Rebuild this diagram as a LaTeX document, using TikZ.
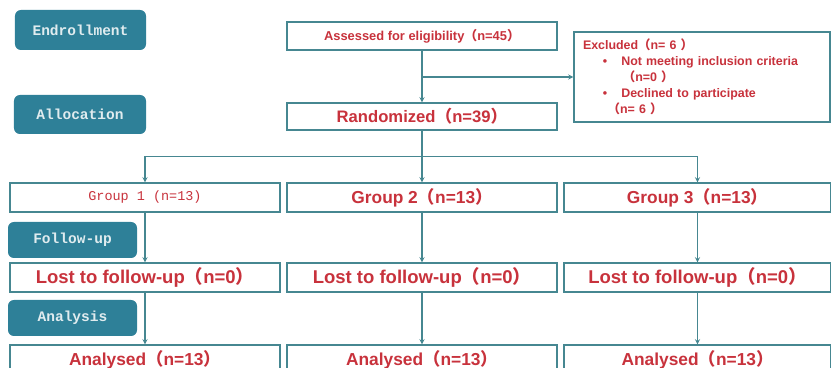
\documentclass[tikz,border=0pt]{standalone}
\usepackage{fontspec}
\setmainfont{Liberation Sans}
\newfontfamily\monofont{Liberation Mono}
\newfontfamily\cjk{Noto Sans CJK SC}
\usepackage{tikz}
\usetikzlibrary{shapes.geometric, arrows, positioning}
\definecolor{stagefill}{RGB}{46,128,152}
\definecolor{boxline}{RGB}{70,135,145}
\definecolor{boxtext}{RGB}{200,50,60}
\newcommand{\lp}{{\cjk （}}
\newcommand{\rp}{{\cjk ）}}
\tikzstyle{stage} = [rectangle, rounded corners=5pt, 
minimum width=3.87cm, 
minimum height=1.08cm, 
text centered, 
fill=stagefill, 
text=white!85!stagefill, 
font=\monofont\bfseries\fontsize{12.4}{14}\selectfont]
\tikzstyle{flowbox} = [rectangle, 
minimum width=8.1cm, 
minimum height=0.87cm, 
inner sep=0pt, 
text centered, 
draw=boxline, line width=1pt, 
fill=white, 
text=boxtext, 
font=\bfseries\fontsize{14.8}{16}\selectfont]
\tikzstyle{arrow} = [line width=1pt, draw=boxline, ->, >=stealth]

\begin{document}
\begin{tikzpicture}
\useasboundingbox (0,0) rectangle (24.93,-11.04);

% stage labels
\node (enroll) [stage, minimum width=3.93cm, minimum height=1.2cm] at (2.415,-0.9) {Endrollment};
\node (alloc) [stage, minimum width=3.96cm, minimum height=1.17cm] at (2.4,-3.435) {Allocation};
\node (follow) [stage] at (2.175,-7.2) {Follow-up};
\node (analysis) [stage] at (2.175,-9.54) {Analysis};

% enrollment
\node (assess) [flowbox, minimum height=0.84cm, font=\bfseries\fontsize{11}{12}\selectfont] at (12.66,-1.08) {Assessed for eligibility\lp n=45\rp};
\node (excl) [flowbox, minimum width=7.68cm, minimum height=2.7cm, text width=7.14cm, align=left, inner xsep=0.27cm, font=\bfseries\fontsize{10.6}{13.6}\selectfont] at (21.06,-2.31) {Excluded\lp n= 6 \rp\\
\hspace*{17pt}•\hspace*{12pt}Not meeting inclusion criteria\\
\hspace*{34pt}\lp n=0 \rp\\
\hspace*{17pt}•\hspace*{12pt}Declined to participate\\
\hspace*{21pt}\lp n= 6 \rp};
\node (rand) [flowbox, minimum height=0.81cm, font=\bfseries\fontsize{14.2}{16}\selectfont] at (12.66,-3.495) {Randomized\lp n=39\rp};

% groups
\node (g1) [flowbox, font=\monofont\fontsize{11.5}{13}\selectfont] at (4.35,-5.925) {Group 1 (n=13)};
\node (g2) [flowbox] at (12.66,-5.925) {Group 2\lp n=13\rp};
\node (g3) [flowbox, minimum width=8.01cm] at (20.925,-5.925) {Group 3\lp n=13\rp};

\node (lost1) [flowbox, font=\bfseries\fontsize{15.8}{17}\selectfont] at (4.35,-8.325) {Lost to follow-up\lp n=0\rp};
\node (lost2) [flowbox, font=\bfseries\fontsize{15.8}{17}\selectfont] at (12.66,-8.325) {Lost to follow-up\lp n=0\rp};
\node (lost3) [flowbox, minimum width=8.01cm, font=\bfseries\fontsize{15.8}{17}\selectfont] at (20.925,-8.325) {Lost to follow-up\lp n=0\rp};

\node (ana1) [flowbox] at (4.35,-10.785) {Analysed\lp n=13\rp};
\node (ana2) [flowbox] at (12.66,-10.785) {Analysed\lp n=13\rp};
\node (ana3) [flowbox, minimum width=8.01cm] at (20.925,-10.785) {Analysed\lp n=13\rp};

% connectors
\coordinate (split1) at (assess.south |- excl.west);
\coordinate [below=0.78cm of rand] (split2);
\draw [arrow] (assess) -- (rand);
\draw [arrow] (split1) -- (excl.west);
\draw [arrow] (rand) -- (g2);
\draw [arrow] (split2) -| (g1);
\draw [arrow] (split2) -| (g3);
\foreach \i in {1,2,3} {
\draw [arrow] (g\i) -- (lost\i);
\draw [arrow] (lost\i) -- (ana\i);
}

\end{tikzpicture}
\end{document}
